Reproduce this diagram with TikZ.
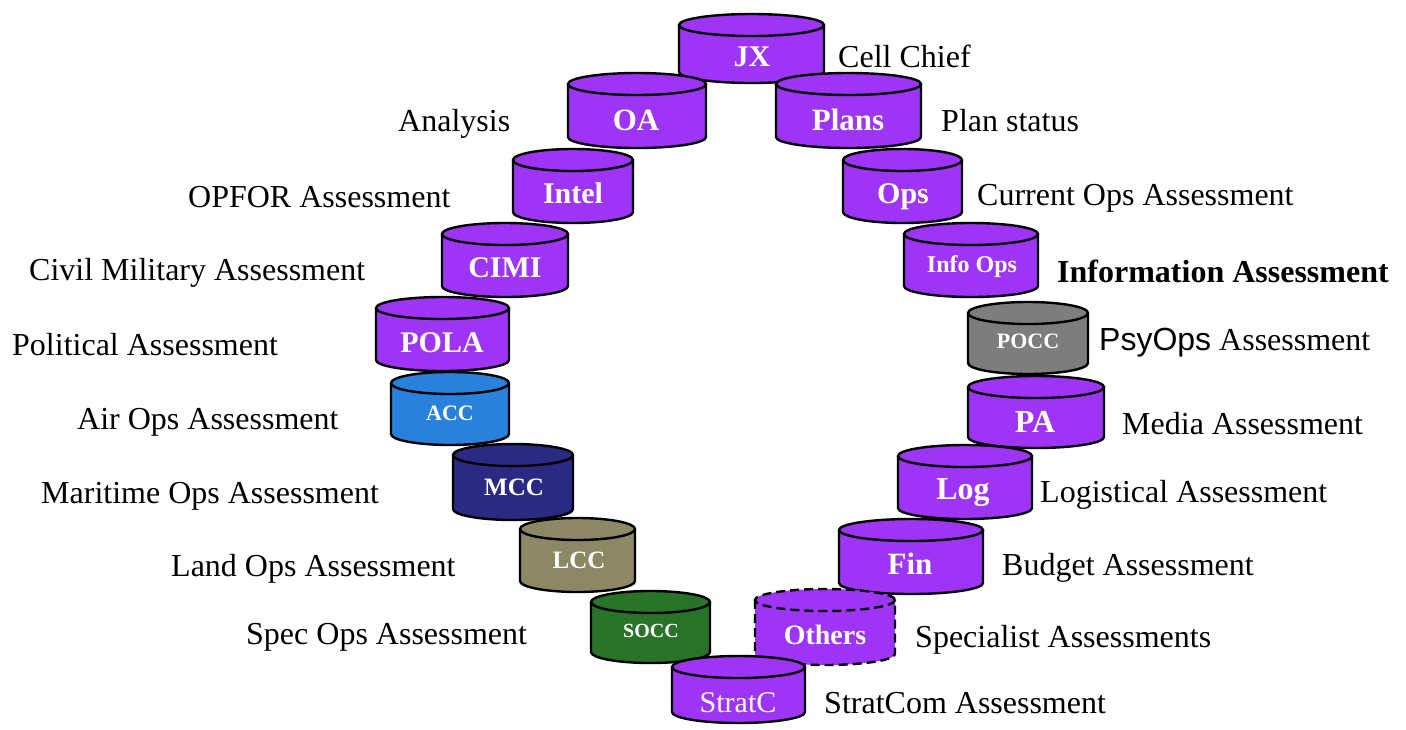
\documentclass[tikz,border=0pt]{standalone}
\usepackage{fontspec}
\setmainfont{Liberation Serif}
\newfontfamily\psans{Liberation Sans}
\definecolor{cpurple}{RGB}{158,52,245}
\definecolor{cblue}{RGB}{40,130,220}
\definecolor{cnavy}{RGB}{42,42,130}
\definecolor{colive}{RGB}{140,135,100}
\definecolor{cgreen}{RGB}{40,115,40}
\definecolor{cgray}{RGB}{125,125,125}
\newcommand{\ryv}{11}
\newcommand{\cyl}[6]{%
  \pgfmathsetmacro\cx{(#1+#2)/2}%
  \pgfmathsetmacro\rx{(#2-#1)/2}%
  \pgfmathsetmacro\ty{#3+\ryv}%
  \pgfmathsetmacro\by{#4-\ryv}%
  \path[fill=#5] (#1,\ty) -- (#1,\by) arc[start angle=180,end angle=0,x radius=\rx,y radius=\ryv] -- (#2,\ty) arc[start angle=0,end angle=-180,x radius=\rx,y radius=\ryv] -- cycle;
  \draw[cylline,#6] (#1,\ty) -- (#1,\by) arc[start angle=180,end angle=0,x radius=\rx,y radius=\ryv] -- (#2,\ty);
  \draw[cylline,#6] (\cx,\ty) ellipse[x radius=\rx,y radius=\ryv];
}
\tikzset{
  cylline/.style={line width=2.4pt,black},
  dashline/.style={dash pattern=on 9pt off 5pt},
  ctxt/.style={anchor=base,text=white,inner sep=0pt,font=\bfseries\fontsize{#1}{#1}\selectfont},
  ltxt/.style={anchor=base west,inner sep=0pt,font=\fontsize{32}{36}\selectfont},
}
\begin{document}
\begin{tikzpicture}[x=1pt,y=1pt]
\begin{scope}[yscale=-1]
\useasboundingbox[fill=white] (0,0) rectangle (1406,729);
% cylinders, back to front
\cyl{679}{824}{14}{83}{cpurple}{}
\node[ctxt=30] (jx) at (752,66) {JX};
\cyl{776}{921}{73}{148}{cpurple}{}
\node[ctxt=31] (plans) at (848,130) {Plans};
\cyl{568}{706}{73}{148}{cpurple}{}
\node[ctxt=31] (oa) at (636,130) {OA};
\cyl{513}{633}{149}{223}{cpurple}{}
\node[ctxt=30] (intel) at (573,203) {Intel};
\cyl{843}{962}{149}{223}{cpurple}{}
\node[ctxt=30] (ops) at (903,203) {Ops};
\cyl{442}{568}{223}{297}{cpurple}{}
\node[ctxt=30] (cimi) at (505,277) {CIMI};
\cyl{904}{1038}{223}{297}{cpurple}{}
\node[ctxt=24] (infoops) at (972,272) {Info Ops};
\cyl{376}{509}{297}{371}{cpurple}{}
\node[ctxt=30] (pola) at (442,352) {POLA};
\cyl{968}{1088}{302}{374}{cgray}{}
\node[ctxt=22] (pocc) at (1028,348) {POCC};
\cyl{391}{509}{372}{445}{cblue}{}
\node[ctxt=22] (acc) at (450,420) {ACC};
\cyl{968}{1104}{376}{448}{cpurple}{}
\node[ctxt=32] (pa) at (1035,432) {PA};
\cyl{453}{573}{444}{520}{cnavy}{}
\node[ctxt=25] (mcc) at (514,495) {MCC};
\cyl{898}{1032}{445}{519}{cpurple}{}
\node[ctxt=32] (log) at (963,499) {Log};
\cyl{520}{635}{518}{592}{colive}{}
\node[ctxt=25] (lcc) at (579,568) {LCC};
\cyl{839}{983}{519}{594}{cpurple}{}
\node[ctxt=31] (fin) at (910,574) {Fin};
\cyl{755}{895}{589}{665}{cpurple}{dashline}
\node[ctxt=28] (others) at (825,644) {Others};
\cyl{591}{710}{591}{663}{cgreen}{}
\node[ctxt=20] (socc) at (651,637) {SOCC};
\cyl{672}{805}{656}{723}{cpurple}{}
\node[ctxt=30,font=\mdseries\fontsize{30}{30}\selectfont] (stratc) at (738,712) {StratC};
% labels
\node[ltxt] (l-jx) at (838,67) {Cell Chief};
\node[ltxt] (l-oa) at (398,131) {Analysis};
\node[ltxt] (l-plans) at (941,131) {Plan status};
\node[ltxt] (l-intel) at (188,207) {OPFOR Assessment};
\node[ltxt] (l-ops) at (977,205) {Current Ops Assessment};
\node[ltxt] (l-cimi) at (29,280) {Civil Military Assessment};
\node[ltxt,font=\bfseries\fontsize{32}{36}\selectfont] (l-info) at (1057,282) {Information Assessment};
\node[ltxt] (l-pola) at (12,355) {Political Assessment};
\node[ltxt] (l-pocc) at (1099,350) {{\psans PsyOps} Assessment};
\node[ltxt] (l-acc) at (77,429) {Air Ops Assessment};
\node[ltxt] (l-pa) at (1122,434) {Media Assessment};
\node[ltxt] (l-mcc) at (41,503) {Maritime Ops Assessment};
\node[ltxt] (l-log) at (1040,502) {Logistical Assessment};
\node[ltxt] (l-lcc) at (171,576) {Land Ops Assessment};
\node[ltxt] (l-fin) at (1002,575) {Budget Assessment};
\node[ltxt] (l-socc) at (246,644) {Spec Ops Assessment};
\node[ltxt] (l-others) at (915,647) {Specialist Assessments};
\node[ltxt] (l-stratc) at (824,713) {StratCom Assessment};
\end{scope}
\end{tikzpicture}
\end{document}
